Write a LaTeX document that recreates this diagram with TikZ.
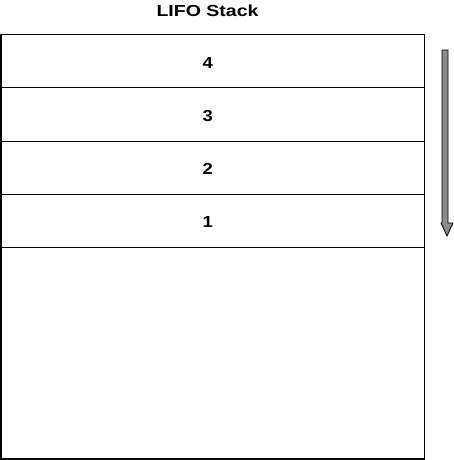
\documentclass[tikz,border=0pt]{standalone}
\usepackage{fontspec}
\setmainfont{Liberation Sans}
\usetikzlibrary{positioning}

\begin{document}
\begin{tikzpicture}[
            x = 1pt, y = -1pt, % pixel grid, y grows downwards
            node distance = 0pt, % cells touch each other
            semithick % line style
        ]

        \tikzstyle{cell}=[
            draw = black,
            line width = 0.8pt,
            minimum width = 423.5pt,
            minimum height = 53.2pt,
            inner sep = 0pt,
            outer sep = 0pt
        ]
        \tikzstyle{num}=[
            font = \bfseries\fontsize{16}{18}\selectfont,
            xscale = 1.15,
            inner sep = 0pt
        ]

        \useasboundingbox (0,0) rectangle (454,460);

        \node[font = \bfseries\fontsize{16}{18}\selectfont, xscale = 1.22, inner sep = 0pt]
            (title) at (207.5,10.5) {LIFO Stack};

        \node[cell, anchor = north west] (c4) at (1,34.5) {};
        \node[cell] (c3) [below=of c4] {};
        \node[cell] (c2) [below=of c3] {};
        \node[cell] (c1) [below=of c2] {};
        \coordinate (bottom) at (424.5,458.7);

        \node[num] at ([xshift=-5pt,yshift=-1.5pt]c4.center) {4};
        \node[num] at ([xshift=-5pt,yshift=-1.5pt]c3.center) {3};
        \node[num] at ([xshift=-5pt,yshift=-1.5pt]c2.center) {2};
        \node[num] at ([xshift=-5pt,yshift=-1.5pt]c1.center) {1};

        % outer frame of the stack
        \draw[line width = 1.6pt] (c4.north west) rectangle (bottom);

        % push direction
        \draw[fill = gray!90, line width = 0.8pt]
            (442,50) -- (448,50) -- (448,223) -- (453,223) -- (447,236)
            -- (441,223) -- (442,223) -- cycle;

    \end{tikzpicture}
\end{document}
